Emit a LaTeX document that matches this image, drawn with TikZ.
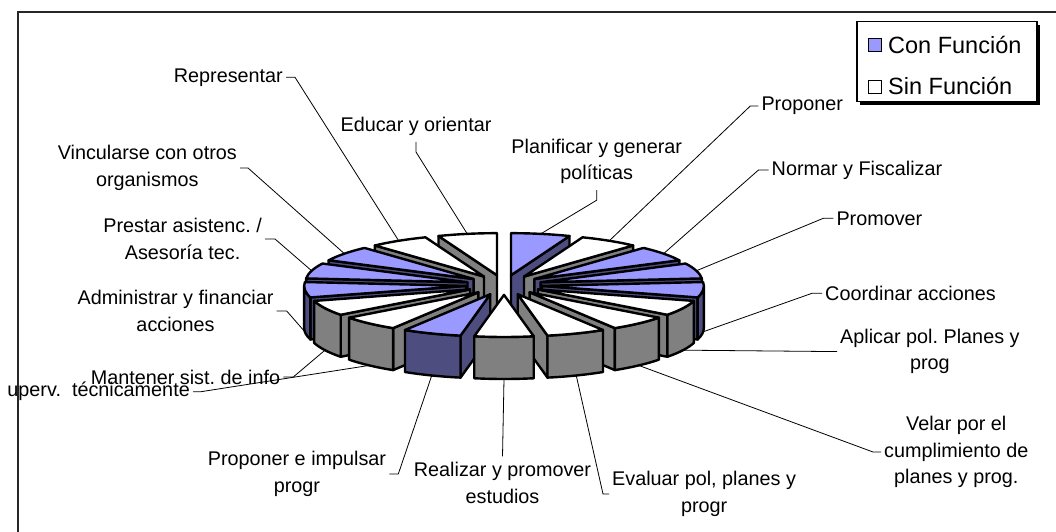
\documentclass[tikz,border=0pt]{standalone}
\usepackage{fontspec}
\setmainfont{Liberation Sans}
\frenchspacing
\definecolor{conf}{HTML}{9999FF}
\definecolor{confsd}{HTML}{4D4D80}
\definecolor{sinfsd}{HTML}{808080}
\tikzset{
  slice/.style={line width=2.4pt, line join=round},
  lbl/.style={font=\fontsize{19.8}{26.5}\selectfont, align=center, inner xsep=3pt, inner ysep=6pt},
  leader/.style={line width=0.8pt},
  legtxt/.style={font=\fontsize{23.5}{28}\selectfont, anchor=base west, inner sep=0pt}
}
% centre, radii, explode offset and height of the pie
\def\pcx{504}\def\pcy{247}\def\prad{162}\def\pry{42.12}\def\pdx{38}\def\ph{42}

\begin{document}
\begin{tikzpicture}[x=1pt,y=1pt]
\useasboundingbox (0,0) rectangle (1056,532);
\clip (0,0) rectangle (1056,532);
\draw[line width=1.5pt, black!85] (18,-5) |- (1070,520);

% slices, back to front
\foreach \i/\tp/\sd in {1/conf/confsd, 17/white/sinfsd, 2/white/sinfsd, 16/white/sinfsd,
    3/conf/confsd, 15/conf/confsd, 4/conf/confsd, 14/conf/confsd, 5/conf/confsd,
    13/conf/confsd, 6/white/sinfsd, 12/white/sinfsd, 7/white/sinfsd, 11/white/sinfsd,
    8/white/sinfsd, 10/conf/confsd, 9/white/sinfsd}{
  \pgfmathsetmacro\angA{90-(\i-1)*360/17}
  \pgfmathsetmacro\angB{90-\i*360/17}
  \pgfmathsetmacro\angM{(\angA+\angB)/2}
  \pgfmathsetmacro\offx{\pcx+\pdx*cos(\angM)}
  \pgfmathsetmacro\offy{\pcy+0.26*\pdx*sin(\angM)}
  \pgfmathtruncatemacro\showA{cos(\angA)<-0.01}
  \pgfmathtruncatemacro\showB{cos(\angB)>0.01}
  \pgfmathsetmacro\sideA{max(\angB,-180)}
  \pgfmathsetmacro\sideB{min(\angA,0)}
  \pgfmathtruncatemacro\showS{\sideB>\sideA+0.01}
  \ifnum\showA=1
    \draw[slice, fill=\sd] (\offx,\offy) -- ++({\prad*cos(\angA)},{\pry*sin(\angA)}) -- ++(0,-\ph) -- (\offx,{\offy-\ph}) -- cycle;
  \fi
  \ifnum\showB=1
    \draw[slice, fill=\sd] (\offx,\offy) -- ++({\prad*cos(\angB)},{\pry*sin(\angB)}) -- ++(0,-\ph) -- (\offx,{\offy-\ph}) -- cycle;
  \fi
  \ifnum\showS=1
    \draw[slice, fill=\sd] ({\offx+\prad*cos(\sideA)},{\offy+\pry*sin(\sideA)})
      arc[start angle=\sideA, end angle=\sideB, x radius=\prad, y radius=\pry] -- ++(0,-\ph)
      arc[start angle=\sideB, end angle=\sideA, x radius=\prad, y radius=\pry] -- cycle;
  \fi
  \draw[slice, fill=\tp] (\offx,\offy) -- ++({\prad*cos(\angB)},{\pry*sin(\angB)})
    arc[start angle=\angB, end angle=\angA, x radius=\prad, y radius=\pry] -- cycle;
  \pgfmathsetmacro\dropz{sin(\angM)<0 ? \ph : 0}
  \coordinate (p\i) at ({\offx+\prad*cos(\angM)},{\offy+\pry*sin(\angM)-\dropz});
}

% labels
\node[lbl, anchor=south] (n1) at (596.7,341.8) {Planificar y generar\\políticas};
\node[lbl, anchor=west] (n2) at (758.3,426) {Proponer};
\node[lbl, anchor=west] (n3) at (768.5,362) {Normar y Fiscalizar};
\node[lbl, anchor=west] (n4) at (833.3,313.7) {Promover};
\node[lbl, anchor=west] (n5) at (822,238.7) {Coordinar acciones};
\node[lbl, anchor=west] (n6) at (837,180.5) {Aplicar pol. Planes y\\prog};
\node[lbl, anchor=west] (n7) at (881,80) {Velar por el\\cumplimiento de\\planes y prog.};
\node[lbl, anchor=west] (n8) at (609,38) {Evaluar pol, planes y\\progr};
\node[lbl, anchor=north] (n9) at (502.5,75.7) {Realizar y promover\\estudios};
\node[lbl, anchor=east] (n10) at (389.3,58) {Proponer e impulsar\\progr};
\node[lbl, anchor=east] (n11) at (193,140.3) {uperv.\ \ técnicamente};
\node[lbl, anchor=east] (n12) at (283.3,155) {Mantener sist. de info};
\node[lbl, anchor=east] (n13) at (276.7,221) {Administrar y financiar\\acciones};
\node[lbl, anchor=east] (n14) at (265,293) {Prestar asistenc. /\\Asesoría tec.};
\node[lbl, anchor=east] (n15) at (240,364) {Vincularse con otros\\organismos};
\node[lbl, anchor=east] (n16) at (286,454.7) {Representar};
\node[lbl, anchor=south] (n17) at (416,390) {Educar y orientar};

\draw[leader] (n1.south) -- ++(0,-10) -- (p1);
\draw[leader] (n2.west) -- ++(-8,0) -- (p2);
\draw[leader] (n3.west) -- ++(-10,0) -- (p3);
\draw[leader] (n4.west) -- ++(-10,0) -- (p4);
\draw[leader] (n5.west) -- ++(-10,0) -- (p5);
\draw[leader] (n6.west) -- ++(-10,0) -- (p6);
\draw[leader] (n7.west) -- ++(-8,0) -- (p7);
\draw[leader] (n8.west) -- ++(-6,0) -- (p8);
\draw[leader] (n9.north) -- (p9);
\draw[leader] (n10.east) -- ++(9,0) -- (p10);
\draw[leader] (n11.east) -- ++(8,0) -- (p11);
\draw[leader] (n12.east) -- ++(10,0) -- (p12);
\draw[leader] (n13.east) -- ++(10,0) -- (p13);
\draw[leader] (n14.east) -- ++(10,0) -- (p14);
\draw[leader] (n15.east) -- ++(8,0) -- (p15);
\draw[leader] (n16.east) -- ++(9,0) -- (p16);
\draw[leader] (n17.south) -- ++(0,-10) -- (p17);

% legend
\fill (860,427.3) rectangle (1040,507.3);
\draw[line width=1.2pt, fill=white] (857,430.3) rectangle (1037,510.3);
\draw[line width=1pt, fill=conf] (868,480.5) rectangle (881,493.5);
\draw[line width=1pt, fill=white] (868,438) rectangle (881,451);
\node[legtxt] (lcon) at (888,478.7) {Con Función};
\node[legtxt] (lsin) at (888,437) {Sin Función};
\end{tikzpicture}
\end{document}
